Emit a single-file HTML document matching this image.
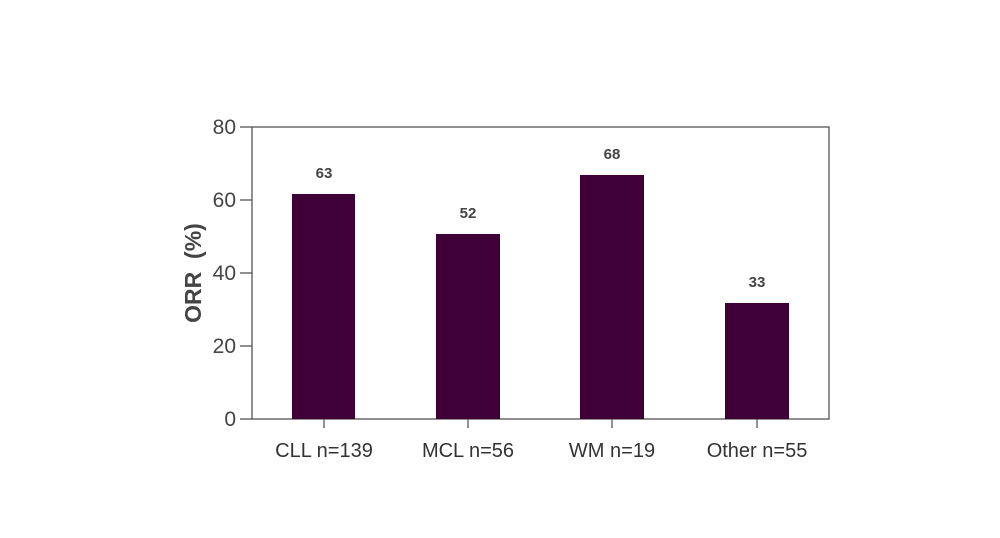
<!DOCTYPE html>
<html><head><style>body{margin:0;background:#fff}</style></head><body>
<svg width="1000" height="533" xmlns="http://www.w3.org/2000/svg" font-family="Liberation Sans, sans-serif">
<rect x="252" y="127" width="577" height="292" fill="none" stroke="#555" stroke-width="1.3"/>
<g stroke="#555" stroke-width="1.3">
<line x1="240" y1="127" x2="252" y2="127"/><line x1="240" y1="200" x2="252" y2="200"/><line x1="240" y1="273" x2="252" y2="273"/><line x1="240" y1="346" x2="252" y2="346"/><line x1="240" y1="419" x2="252" y2="419"/>
<line x1="324" y1="419" x2="324" y2="428"/><line x1="468" y1="419" x2="468" y2="428"/><line x1="612" y1="419" x2="612" y2="428"/><line x1="757" y1="419" x2="757" y2="428"/>
</g>
<g fill="#3f0038">
<rect x="292" y="194" width="63" height="225"/>
<rect x="436" y="234" width="64" height="185"/>
<rect x="580" y="175" width="64" height="244"/>
<rect x="725" y="303" width="64" height="116"/>
</g>
<g fill="#444" font-size="21" text-anchor="end">
<text x="236" y="134">80</text><text x="236" y="207">60</text><text x="236" y="280">40</text><text x="236" y="353">20</text><text x="236" y="426">0</text>
</g>
<g fill="#444" font-size="15" font-weight="bold" text-anchor="middle">
<text x="324" y="178">63</text><text x="468" y="218">52</text><text x="612" y="159">68</text><text x="757" y="287">33</text>
</g>
<g fill="#333" font-size="20" text-anchor="middle">
<text x="324" y="457">CLL n=139</text><text x="468" y="457">MCL n=56</text><text x="612" y="457">WM n=19</text><text x="757" y="457">Other n=55</text>
</g>
<text transform="translate(201,273) rotate(-90)" text-anchor="middle" fill="#444" font-size="23" font-weight="bold">ORR &#160;(%)</text>
</svg>
</body></html>
